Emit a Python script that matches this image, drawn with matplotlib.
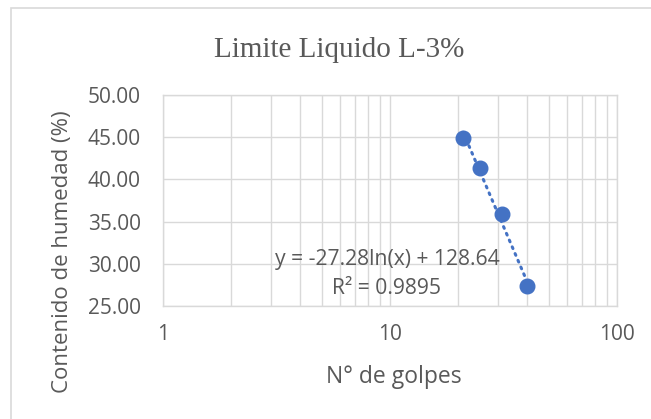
import numpy as np
import matplotlib
matplotlib.use("Agg")
import matplotlib.pyplot as plt
from matplotlib.patches import Rectangle
from matplotlib.ticker import FixedLocator, NullFormatter

# data
golpes = [21, 25, 31, 40]
humedad = [44.94, 41.31, 35.86, 27.40]
title = "Limite Liquido L-3%"
xlabel = "N° de golpes"
ylabel = "Contenido de humedad (%)"
eq_text = "y = -27.28ln(x) + 128.64"
r2_text = "R² = 0.9895"
slope, intercept = -27.28, 128.64

W, H = 651, 419
blue = "#4472C4"
grey = "#595959"
grid = "#D9D9D9"
sans = "Open Sans"


def fx(px):
    return px / W


def fy(py):
    return 1 - py / H


fig = plt.figure(figsize=(W / 100, H / 100), dpi=100)
fig.patches.append(Rectangle((fx(11), fy(440)), 2, fy(8) - fy(440), transform=fig.transFigure,
                             fill=False, edgecolor=grid, lw=1.2))

ax = fig.add_axes([fx(163), fy(306), fx(617) - fx(163), fy(95) - fy(306)])
ax.set_xscale("log")
ax.set_xlim(1, 100)
ax.set_ylim(25, 50)

ax.xaxis.set_major_locator(FixedLocator([1, 10, 100]))
ax.xaxis.set_minor_locator(FixedLocator([k * d for d in (1, 10) for k in range(2, 10)]))
ax.xaxis.set_minor_formatter(NullFormatter())
ax.set_xticklabels(["1", "10", "100"])
ax.set_yticks(np.arange(25, 50.01, 5))
ax.set_yticklabels([f"{v:.2f}" for v in np.arange(25, 50.01, 5)])

ax.grid(True, which="both", color=grid, lw=1)
ax.set_axisbelow(True)
for s in ax.spines.values():
    s.set_color(grid)
    s.set_linewidth(1)
ax.tick_params(which="both", length=0, labelsize=15, labelcolor=grey)
ax.tick_params(axis="y", pad=16)
ax.tick_params(axis="x", pad=13)
for lab in ax.get_xticklabels() + ax.get_yticklabels():
    lab.set_family(sans)

# trendline
xt = np.linspace(min(golpes), max(golpes), 50)
ax.plot(xt, slope * np.log(xt) + intercept, color=blue, lw=2.2, linestyle=(0, (0.6, 1.8)),
        dash_capstyle="round", zorder=3)
ax.plot(golpes, humedad, "o", color=blue, ms=10.5, zorder=4)

fig.text(fx(339), fy(57), title, ha="center", va="baseline", family="Liberation Serif",
         fontsize=21, color=grey)
fig.text(fx(394), fy(383), xlabel, ha="center", va="baseline", family=sans, fontsize=16.5, color=grey)
fig.text(fx(63), fy(252), ylabel, ha="center", va="center", rotation=90, family=sans,
         fontsize=16, color=grey)
fig.text(fx(387), fy(260), eq_text, ha="center", va="center", family=sans, fontsize=15.2, color=grey)
fig.text(fx(387), fy(288), r2_text, ha="center", va="center", family=sans, fontsize=15.2, color=grey)

fig.savefig("out.png", dpi=100)
